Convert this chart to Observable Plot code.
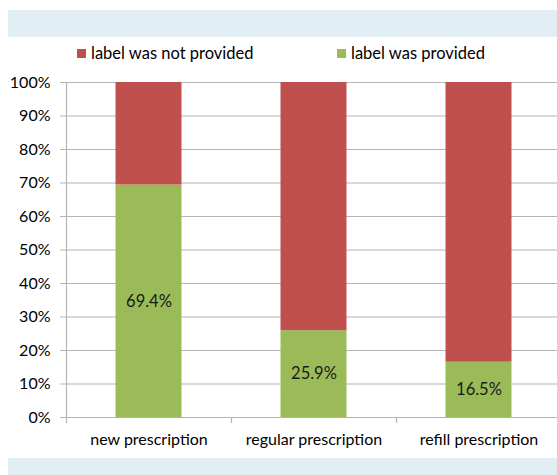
<!DOCTYPE html>
<html>
<head>
<meta charset="utf-8">
<script src="https://cdn.jsdelivr.net/npm/d3@7"></script>
<script src="https://cdn.jsdelivr.net/npm/@observablehq/plot@0.6"></script>
<style>
  html, body { margin: 0; padding: 0; background: #fff; }
  #wrap { position: relative; width: 557px; height: 475px; overflow: hidden; font-family: Lato, sans-serif; }
  .band { position: absolute; background: #E1EFF5; }
  #legend { position: absolute; top: 43px; left: 0; width: 557px; height: 20px; font-size: 16.5px; color: #000; }
  .item { position: absolute; top: 0; display: flex; align-items: center; height: 20px; }
  .sw { width: 9px; height: 9px; margin-right: 5px; }
  #chart { position: absolute; left: 0; top: 0; }
</style>
</head>
<body>
<div id="wrap">
  <div class="band" style="left:8px; top:10px; width:549px; height:27px;"></div>
  <div class="band" style="left:8px; top:458px; width:549px; height:17px;"></div>
  <div id="legend"></div>
  <div id="chart"></div>
</div>
<script>
const categories = ["new prescription", "regular prescription", "refill prescription"];
const seriesNames = ["label was not provided", "label was provided"];
const seriesColors = ["#C0504D", "#9BBB59"];
const providedValues = [69.4, 25.9, 16.5];
const notProvidedValues = [30.6, 74.1, 83.5];
const yTicks = [0, 10, 20, 30, 40, 50, 60, 70, 80, 90, 100];

const rows = [];
categories.forEach((c, i) => {
  rows.push({category: c, series: seriesNames[1], value: providedValues[i]});
  rows.push({category: c, series: seriesNames[0], value: notProvidedValues[i]});
});
const provRows = categories.map((c, i) => ({category: c, value: providedValues[i]}));

const xRange = [66, 561];
const bw = (xRange[1] - xRange[0]) / categories.length;

const chart = Plot.plot({
  width: 557,
  height: 475,
  marginTop: 82,
  marginBottom: 58,
  marginLeft: 66,
  marginRight: 0,
  style: {background: "transparent", fontFamily: "Lato, sans-serif", fontSize: "16px", color: "#000", overflow: "hidden"},
  x: {domain: categories, range: xRange, padding: 0},
  y: {domain: [0, 100], ticks: yTicks},
  color: {domain: seriesNames, range: seriesColors},
  marks: [
    Plot.ruleY(yTicks, {stroke: "#B4B4B4", strokeWidth: 1.2, insetLeft: -6}),
    Plot.axisY({ticks: yTicks, tickSize: 0, tickPadding: 16, tickFormat: d => d + "%", fontSize: 16, fill: "#000", label: null}),
    Plot.barY(rows, {x: "category", y: "value", fill: "series", order: seriesNames.slice().reverse(), insetLeft: 49.5, insetRight: 49.5}),
    Plot.frame({anchor: "left", stroke: "#B4B4B4", strokeWidth: 1.2}),
    Plot.ruleY([0], {stroke: "#B4B4B4", strokeWidth: 1.2}),
    Plot.ruleX(categories, {x: d => d, y1: 0, y2: 0, dx: -bw / 2, insetBottom: -6, stroke: "#B4B4B4", strokeWidth: 1.2}),
    Plot.axisX({tickSize: 0, tickPadding: 16, fontSize: 16, fill: "#000", label: null}),
    Plot.text(provRows, {x: "category", y: d => d.value / 2, text: d => d.value.toFixed(1) + "%", fontSize: 16.5, fill: "#1a1a1a"})
  ]
});
document.getElementById("chart").appendChild(chart);

const legend = document.getElementById("legend");
const legendX = [77, 337];
seriesNames.forEach((s, i) => {
  const it = document.createElement("div");
  it.className = "item";
  it.style.left = legendX[i] + "px";
  const sw = document.createElement("div");
  sw.className = "sw";
  sw.style.background = seriesColors[i];
  const tx = document.createElement("span");
  tx.textContent = s;
  it.appendChild(sw);
  it.appendChild(tx);
  legend.appendChild(it);
});
</script>
</body>
</html>
